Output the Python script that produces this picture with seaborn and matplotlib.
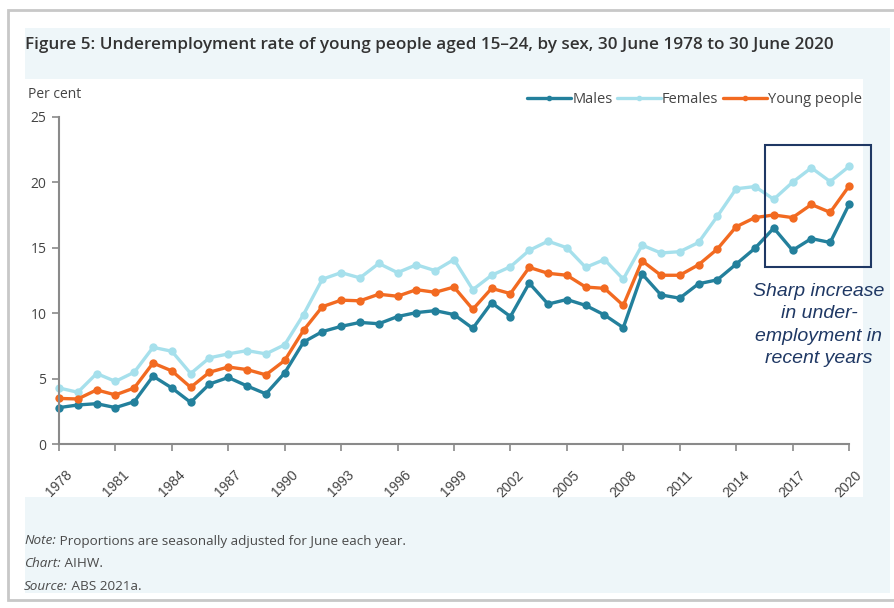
import numpy as np
import pandas as pd
import matplotlib
matplotlib.use("Agg")
import matplotlib.pyplot as plt
from matplotlib.patches import Rectangle
from matplotlib.lines import Line2D
import matplotlib.transforms as mtransforms
import seaborn as sns

years = list(range(1978, 2021))
males = [2.8, 3.0, 3.1, 2.8, 3.25, 5.2, 4.3, 3.2, 4.6, 5.1, 4.45, 3.85, 5.45,
         7.8, 8.6, 9.0, 9.3, 9.2, 9.75, 10.05, 10.2, 9.9, 8.85, 10.8, 9.75,
         12.3, 10.7, 11.05, 10.6, 9.87, 8.9, 13.0, 11.4, 11.15, 12.25, 12.55,
         13.75, 14.96, 16.5, 14.8, 15.7, 15.4, 18.3]
females = [4.3, 3.97, 5.4, 4.8, 5.5, 7.4, 7.1, 5.4, 6.6, 6.9, 7.15, 6.9, 7.6,
           9.9, 12.6, 13.1, 12.7, 13.8, 13.1, 13.7, 13.25, 14.1, 11.8, 12.9,
           13.55, 14.8, 15.5, 15.0, 13.5, 14.1, 12.6, 15.2, 14.6, 14.7, 15.4,
           17.4, 19.5, 19.67, 18.7, 20.0, 21.1, 20.05, 21.2]
young = [3.5, 3.46, 4.15, 3.77, 4.3, 6.2, 5.6, 4.35, 5.5, 5.9, 5.7, 5.3, 6.4,
         8.7, 10.5, 11.0, 10.95, 11.45, 11.3, 11.8, 11.6, 12.0, 10.3, 11.9,
         11.5, 13.5, 13.05, 12.9, 12.0, 11.9, 10.6, 14.0, 12.9, 12.9, 13.7,
         14.9, 16.6, 17.3, 17.5, 17.3, 18.3, 17.7, 19.7]
series_names = ["Males", "Females", "Young people"]
xtick_years = list(range(1978, 2021, 3))
ytick_vals = [0, 5, 10, 15, 20, 25]

title = "Figure 5: Underemployment rate of young people aged 15\u201324, by sex, 30 June 1978 to 30 June 2020"
annotation = "Sharp increase\nin under-\nemployment in\nrecent years"
notes = [("Note:", " Proportions are seasonally adjusted for June each year."),
         ("Chart:", " AIHW."),
         ("Source:", " ABS 2021a.")]

df = pd.DataFrame({
    "Year": years * 3,
    "Rate": males + females + young,
    "Series": [series_names[0]] * len(years) + [series_names[1]] * len(years) + [series_names[2]] * len(years),
})

colors = {"Males": "#23809c", "Females": "#a6e0ec", "Young people": "#f26a21"}

sns.set_style("white")
plt.rcParams["font.family"] = ["Open Sans", "DejaVu Sans"]

W, H = 895, 608
fig = plt.figure(figsize=(W / 100, H / 100), dpi=100)
fig.patch.set_facecolor("white")

def fx(px):
    return px / W

def fy(py):
    return 1 - py / H

# card and panels (behind the axes)
fig.patches.append(Rectangle((fx(8), fy(600)), fx(900) - fx(8), fy(10) - fy(600),
                             transform=fig.transFigure, facecolor="white",
                             edgecolor="#c8c8c8", linewidth=2.0, zorder=-3))
fig.patches.append(Rectangle((fx(25), fy(593)), fx(890) - fx(25), fy(28) - fy(593),
                             transform=fig.transFigure, facecolor="#eef6f9",
                             edgecolor="none", zorder=-2))
fig.patches.append(Rectangle((fx(25), fy(497)), fx(863) - fx(25), fy(79) - fy(497),
                             transform=fig.transFigure, facecolor="white",
                             edgecolor="none", zorder=-1))

ax = fig.add_axes([fx(59), fy(444.3), fx(849) - fx(59), fy(116.7) - fy(444.3)])
ax.set_facecolor("none")
ax.set_zorder(1)

sns.lineplot(data=df, x="Year", y="Rate", hue="Series", hue_order=series_names,
             palette=colors, marker="o", markersize=6, markeredgewidth=0,
             linewidth=2.4, ax=ax, legend=False)
for ln in ax.lines:
    ln.set_clip_on(False)

ax.set_xlim(1978, 2020)
ax.set_ylim(0, 25)
ax.set_xticks(xtick_years)
ax.set_xticklabels([str(y) for y in xtick_years], rotation=45, ha="right",
                   rotation_mode="anchor", fontsize=10, color="#444444",
                   family="Liberation Sans")
ax.set_yticks(ytick_vals)
ax.set_yticklabels([str(v) for v in ytick_vals], fontsize=10, color="#444444")
ax.tick_params(axis="both", which="major", direction="out", length=5, width=1.2,
               color="#8a8a8a", bottom=True, left=True, pad=4)
ax.tick_params(axis="x", pad=12)
shift = mtransforms.ScaledTranslation(6 / 100, 0, fig.dpi_scale_trans)
for lbl in ax.get_xticklabels():
    lbl.set_transform(lbl.get_transform() + shift)
ax.set_xlabel("")
ax.set_ylabel("")
for s in ["top", "right"]:
    ax.spines[s].set_visible(False)
for s in ["left", "bottom"]:
    ax.spines[s].set_color("#8a8a8a")
    ax.spines[s].set_linewidth(1.5)

handles = [Line2D([], [], color=colors[n], linewidth=2.4, marker="o", markersize=3)
           for n in series_names]
ax.legend(handles, series_names, loc="upper right", bbox_to_anchor=(fx(862), fy(92)),
          bbox_transform=fig.transFigure, ncol=3, frameon=False, fontsize=10.5,
          handlelength=3.0, handletextpad=0.1, columnspacing=0.3,
          labelcolor="#444444", borderaxespad=0, borderpad=0)

fig.text(fx(28), fy(94), "Per cent", fontsize=10, color="#444444", va="center", ha="left")

fig.text(fx(25), fy(45), title, fontsize=12.3, fontweight="semibold", color="#333333",
         va="center", ha="left")

# annotation box
fig.patches.append(Rectangle((fx(765), fy(267)), fx(871) - fx(765), fy(145) - fy(267),
                             transform=fig.transFigure, facecolor="none",
                             edgecolor="#1f3864", linewidth=1.5, zorder=5))
fig.text(fx(819), fy(325), annotation, fontsize=14, fontstyle="italic",
         family="Liberation Sans", color="#1f3864", ha="center", va="center",
         linespacing=1.4, zorder=6)

# notes
for i, (a, b) in enumerate(notes):
    y = fy(541 + i * 22.5)
    t1 = fig.text(fx(24), y, a, fontsize=9.7, fontstyle="italic", color="#4a4a4a",
                  va="center", ha="left")
    ax.annotate(b, xy=(1, 0), xycoords=t1, va="bottom", ha="left",
                fontsize=9.7, color="#4a4a4a", annotation_clip=False)

fig.savefig("out.png", dpi=100)
